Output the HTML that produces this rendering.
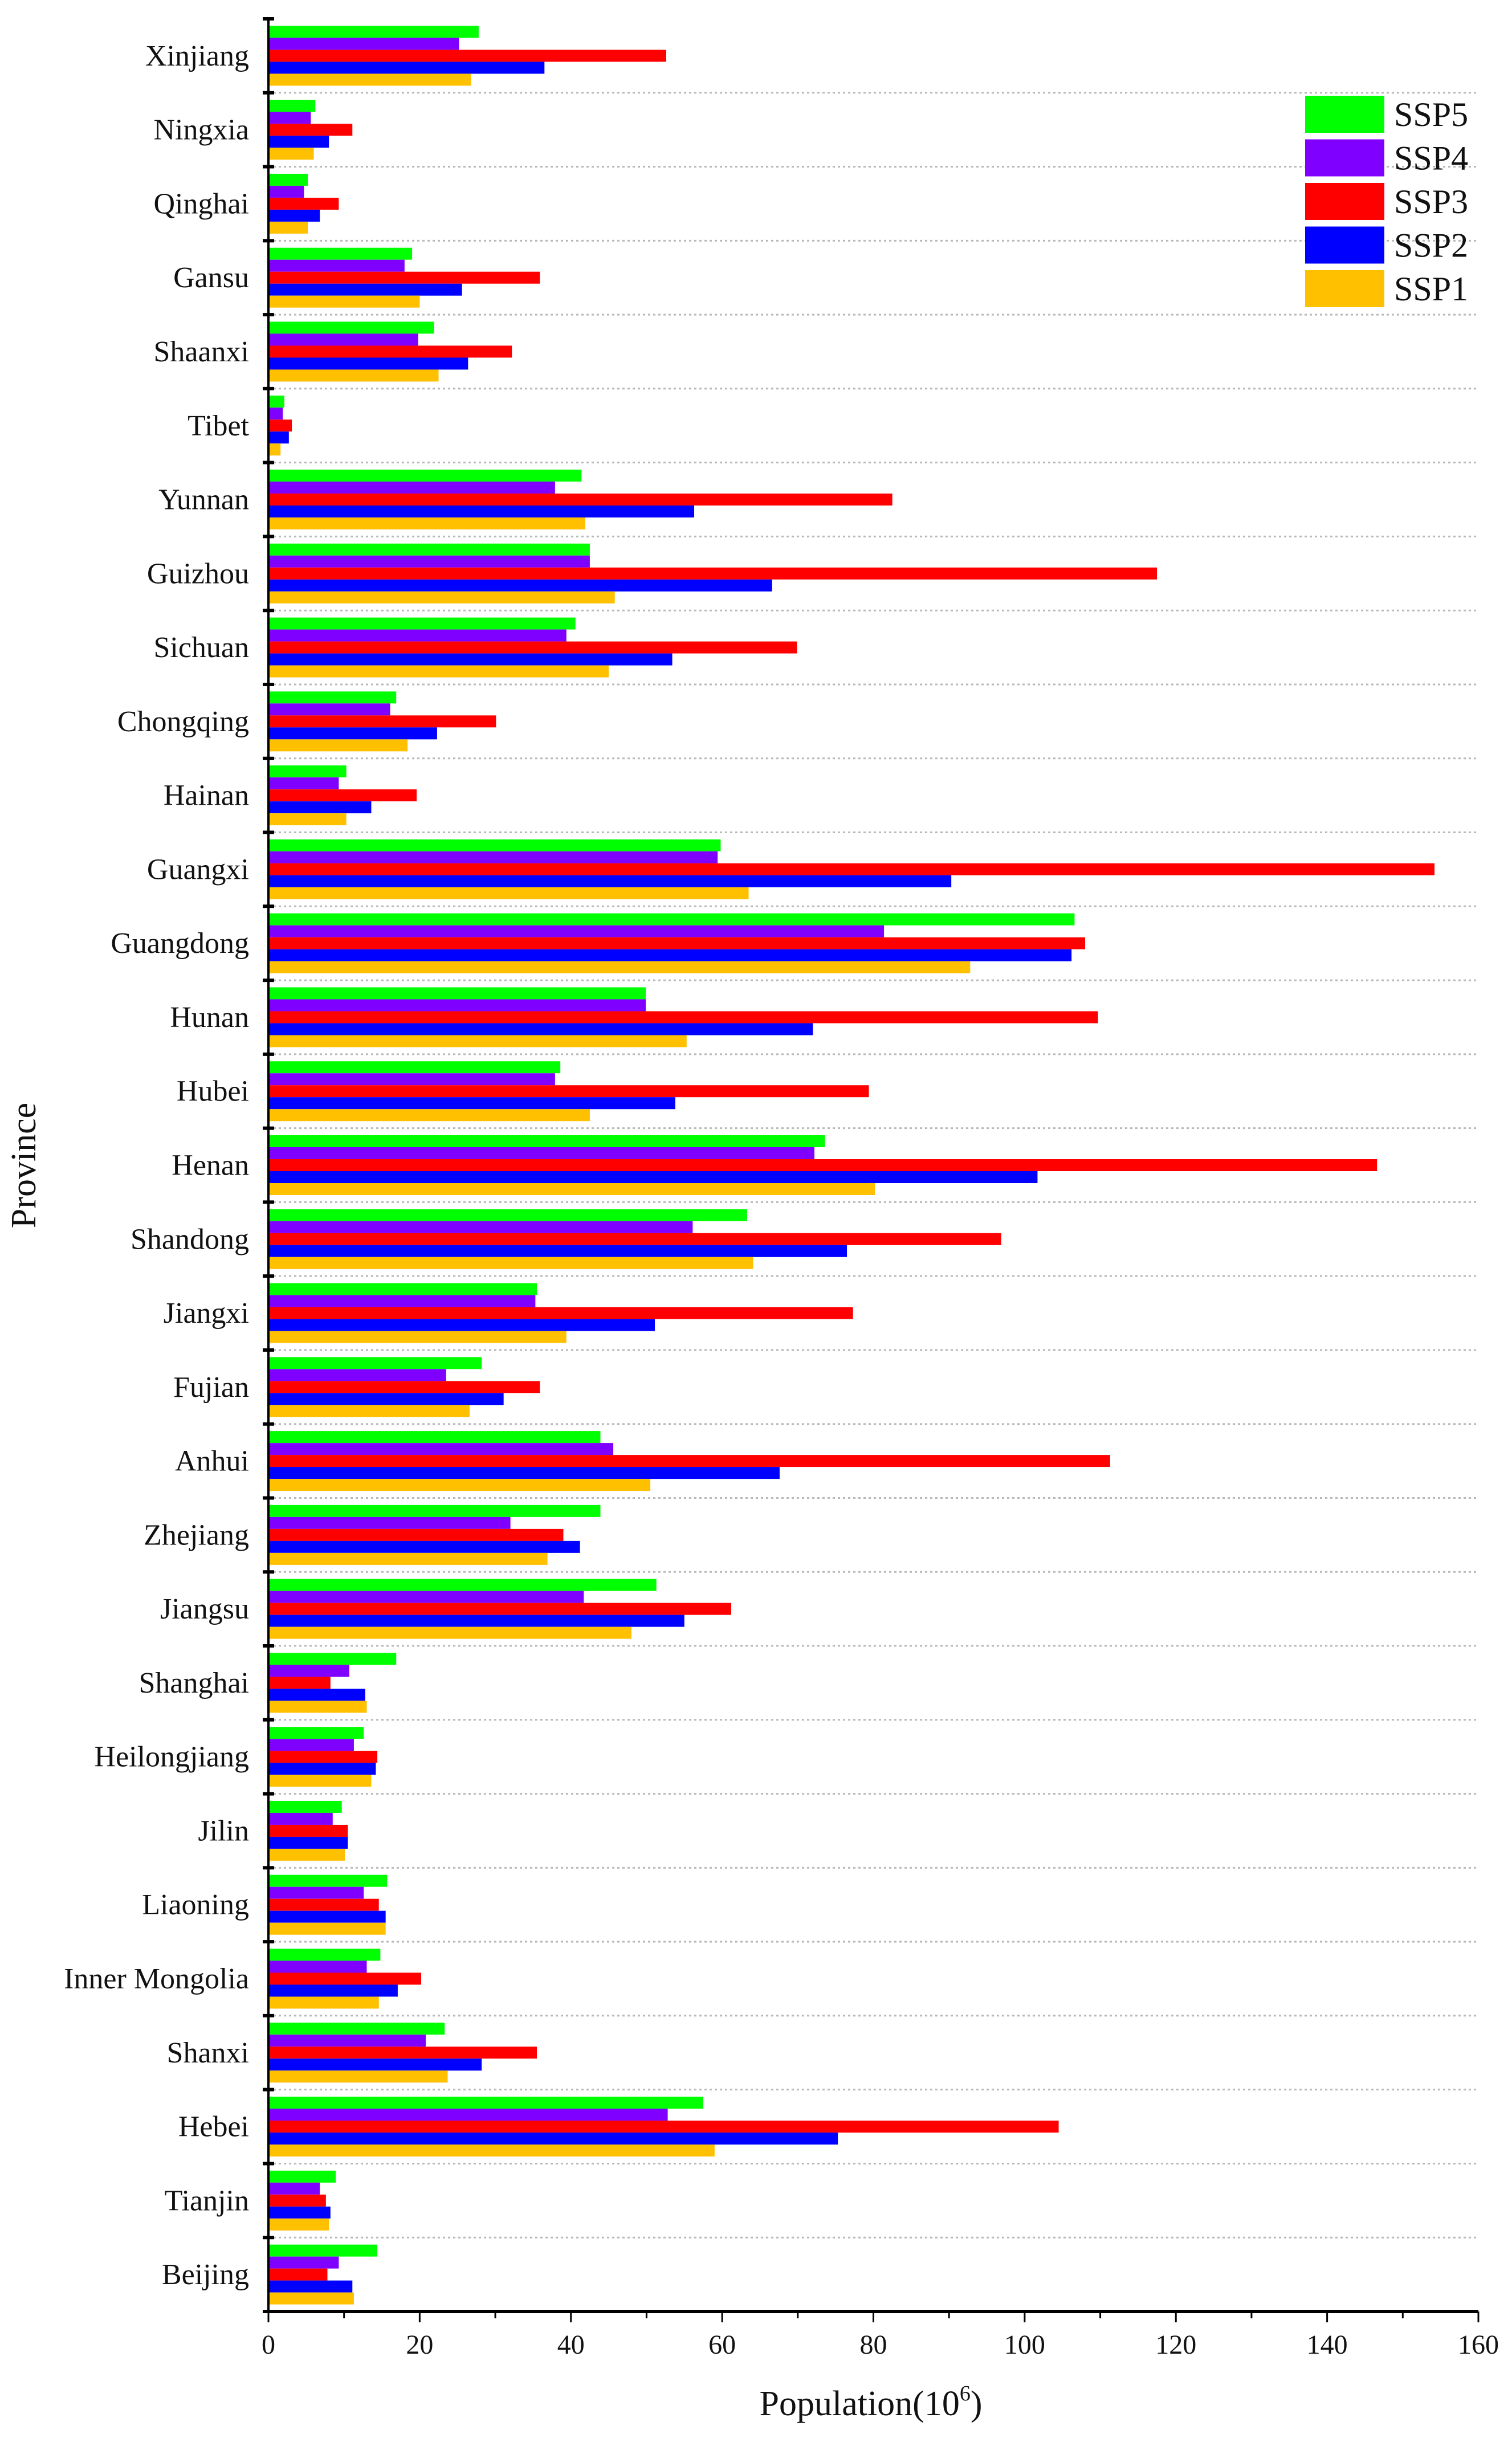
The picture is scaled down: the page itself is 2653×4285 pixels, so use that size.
<!DOCTYPE html>
<html><head><meta charset="utf-8"><style>
html,body{margin:0;padding:0;background:#fff;}
svg{display:block;font-family:"Liberation Serif",serif;}
</style></head><body>
<svg id="chart" width="2653" height="4285" viewBox="0 0 2653 4285" xmlns="http://www.w3.org/2000/svg">
<g id="grid"></g>
<g id="bars"></g>
<g id="axes"></g>
<g id="legend"></g>
</svg>
<script>
const provinces = ["Xinjiang","Ningxia","Qinghai","Gansu","Shaanxi","Tibet","Yunnan","Guizhou","Sichuan","Chongqing","Hainan","Guangxi","Guangdong","Hunan","Hubei","Henan","Shandong","Jiangxi","Fujian","Anhui","Zhejiang","Jiangsu","Shanghai","Heilongjiang","Jilin","Liaoning","Inner Mongolia","Shanxi","Hebei","Tianjin","Beijing"];
const ssp5 = [27.8,6.2,5.2,19,21.9,2.1,41.4,42.5,40.6,16.9,10.3,59.8,106.6,49.9,38.6,73.6,63.3,35.5,28.2,43.9,43.9,51.3,16.9,12.6,9.7,15.7,14.8,23.3,57.5,8.9,14.4];
const ssp4 = [25.2,5.6,4.7,18,19.8,1.9,37.9,42.5,39.4,16.1,9.3,59.4,81.4,49.9,37.9,72.2,56.1,35.3,23.5,45.6,32,41.7,10.7,11.3,8.5,12.6,13,20.8,52.8,6.8,9.3];
const ssp3 = [52.6,11.1,9.3,35.9,32.2,3.1,82.5,117.5,69.9,30.1,19.6,154.2,108,109.7,79.4,146.6,96.9,77.3,35.9,111.3,39,61.2,8.2,14.4,10.5,14.6,20.2,35.5,104.5,7.6,7.8];
const ssp2 = [36.5,8.0,6.8,25.6,26.4,2.7,56.3,66.6,53.4,22.3,13.6,90.3,106.2,72,53.8,101.7,76.5,51.1,31.1,67.6,41.2,55,12.8,14.2,10.5,15.5,17.1,28.2,75.3,8.2,11.1];
const ssp1 = [26.8,6.0,5.2,20,22.5,1.6,41.9,45.8,45,18.4,10.3,63.5,92.8,55.3,42.5,80.2,64.1,39.4,26.6,50.5,36.9,48,13,13.6,10.1,15.5,14.6,23.7,59,8,11.3];
const seriesNames = ["SSP5","SSP4","SSP3","SSP2","SSP1"];
const xTicks = [0,20,40,60,80,100,120,140,160];

const NS="http://www.w3.org/2000/svg";
const colors=["#00ff00","#8000ff","#ff0000","#0000ff","#ffc000"];
const series=[ssp5,ssp4,ssp3,ssp2,ssp1];
const X0=471,X1=2594,Y0=33,Y1=4056,xMax=160;
const xs=v=>X0+v/xMax*(X1-X0);
const band=(Y1-Y0)/provinces.length;
const barH=21,pad=(band-5*barH)/2;
function mk(tag,attrs,parent){const e=document.createElementNS(NS,tag);for(const k in attrs)e.setAttribute(k,attrs[k]);parent.appendChild(e);return e;}
const gGrid=document.getElementById('grid'),gBars=document.getElementById('bars'),gAxes=document.getElementById('axes'),gLeg=document.getElementById('legend');

provinces.forEach((p,i)=>{
  const top=Y0+i*band;
  if(i>0){
    const l=mk('line',{x1:X0,x2:X1,y1:top,y2:top,stroke:'#b8b8b8','stroke-width':3,'stroke-dasharray':'4 5'},gGrid);
    
    
  }
  series.forEach((s,j)=>{
    const r=mk('rect',{x:X0,y:top+pad+j*barH,width:Math.max(0,xs(s[i])-X0),height:barH,fill:colors[j]},gBars);
    
    
  });
  const t=mk('text',{x:437,y:top+band/2+17,'text-anchor':'end','font-size':52,fill:'#111'},gAxes);
  t.textContent=p;
  
  
});
// y-axis ticks
for(let i=0;i<=provinces.length;i++){
  const y=Y0+i*band;
  const tk=mk('line',{x1:X0-10,x2:X0+10,y1:y,y2:y,stroke:'#000','stroke-width':6},gAxes);
  
  
}
const ya=mk('line',{x1:X0,x2:X0,y1:Y0,y2:Y1,stroke:'#000','stroke-width':4},gAxes);


const xa=mk('line',{x1:X0-6,x2:X1,y1:Y1,y2:Y1,stroke:'#000','stroke-width':6},gAxes);


for(let v=0;v<=xMax;v+=10){
  const major=v%20===0;
  const mt=mk('line',{x1:xs(v),x2:xs(v),y1:Y1,y2:Y1+(major?19:12),stroke:'#000','stroke-width':3},gAxes);
  
  
}
xTicks.forEach(v=>{
  const t=mk('text',{x:xs(v),y:4130,'text-anchor':'middle','font-size':48,fill:'#111'},gAxes);
  t.textContent=v;
  
  
});
const xt=mk('text',{x:1528,y:4238,'text-anchor':'middle','font-size':62,fill:'#111'},gAxes);
xt.innerHTML='Population(10<tspan font-size="38" dy="-26">6</tspan><tspan dy="26">)</tspan>';


const yt=mk('text',{x:0,y:0,'text-anchor':'middle','font-size':62,fill:'#111',transform:'translate(62,2045) rotate(-90)'},gAxes);
yt.textContent='Province';


// legend
seriesNames.forEach((n,j)=>{
  const y=168+j*76.5;
  const r=mk('rect',{x:2290,y:y,width:139,height:65,fill:colors[j]},gLeg);
  
  
  const t=mk('text',{x:2446,y:y+53,'font-size':60,fill:'#111'},gLeg);
  t.textContent=n;
  
  
});
</script>
</body></html>
